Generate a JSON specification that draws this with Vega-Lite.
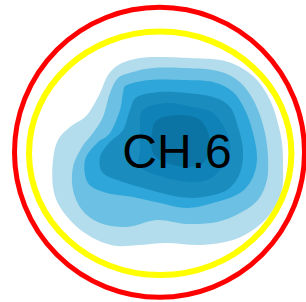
{
  "$schema": "https://vega.github.io/schema/vega-lite/v6.json",
  "width": 306,
  "height": 302,
  "padding": 0,
  "autosize": "none",
  "view": {"stroke": null},
  "datasets": {
    "contours": [
      {"level":1,"i":0,"x":120,"y":64},{"level":1,"i":1,"x":140,"y":58},{"level":1,"i":2,"x":160,"y":57},{"level":1,"i":3,"x":190,"y":58},{"level":1,"i":4,"x":220,"y":60},{"level":1,"i":5,"x":240,"y":67},{"level":1,"i":6,"x":257,"y":80},{"level":1,"i":7,"x":270,"y":100},{"level":1,"i":8,"x":277,"y":120},{"level":1,"i":9,"x":282,"y":143},{"level":1,"i":10,"x":283,"y":167},{"level":1,"i":11,"x":282,"y":190},{"level":1,"i":12,"x":273,"y":210},{"level":1,"i":13,"x":257,"y":227},{"level":1,"i":14,"x":233,"y":240},{"level":1,"i":15,"x":200,"y":245},{"level":1,"i":16,"x":167,"y":243},{"level":1,"i":17,"x":140,"y":245},{"level":1,"i":18,"x":117,"y":246},{"level":1,"i":19,"x":97,"y":240},{"level":1,"i":20,"x":77,"y":227},{"level":1,"i":21,"x":60,"y":207},{"level":1,"i":22,"x":53,"y":187},{"level":1,"i":23,"x":53,"y":160},{"level":1,"i":24,"x":58,"y":140},{"level":1,"i":25,"x":70,"y":127},{"level":1,"i":26,"x":87,"y":115},{"level":1,"i":27,"x":100,"y":93},{"level":1,"i":28,"x":108,"y":75},
      {"level":2,"i":0,"x":118,"y":78},{"level":2,"i":1,"x":133,"y":72},{"level":2,"i":2,"x":153,"y":68},{"level":2,"i":3,"x":183,"y":68},{"level":2,"i":4,"x":213,"y":70},{"level":2,"i":5,"x":233,"y":77},{"level":2,"i":6,"x":247,"y":90},{"level":2,"i":7,"x":258,"y":110},{"level":2,"i":8,"x":265,"y":133},{"level":2,"i":9,"x":268,"y":157},{"level":2,"i":10,"x":267,"y":180},{"level":2,"i":11,"x":258,"y":200},{"level":2,"i":12,"x":240,"y":213},{"level":2,"i":13,"x":217,"y":222},{"level":2,"i":14,"x":187,"y":224},{"level":2,"i":15,"x":157,"y":220},{"level":2,"i":16,"x":127,"y":227},{"level":2,"i":17,"x":100,"y":223},{"level":2,"i":18,"x":82,"y":210},{"level":2,"i":19,"x":73,"y":190},{"level":2,"i":20,"x":73,"y":167},{"level":2,"i":21,"x":82,"y":147},{"level":2,"i":22,"x":93,"y":133},{"level":2,"i":23,"x":103,"y":117},{"level":2,"i":24,"x":110,"y":93},
      {"level":3,"i":0,"x":127,"y":85},{"level":3,"i":1,"x":150,"y":80},{"level":3,"i":2,"x":183,"y":80},{"level":3,"i":3,"x":213,"y":82},{"level":3,"i":4,"x":233,"y":92},{"level":3,"i":5,"x":245,"y":110},{"level":3,"i":6,"x":253,"y":133},{"level":3,"i":7,"x":257,"y":157},{"level":3,"i":8,"x":253,"y":177},{"level":3,"i":9,"x":240,"y":193},{"level":3,"i":10,"x":213,"y":203},{"level":3,"i":11,"x":187,"y":208},{"level":3,"i":12,"x":160,"y":203},{"level":3,"i":13,"x":133,"y":197},{"level":3,"i":14,"x":107,"y":193},{"level":3,"i":15,"x":88,"y":183},{"level":3,"i":16,"x":85,"y":160},{"level":3,"i":17,"x":97,"y":143},{"level":3,"i":18,"x":110,"y":133},{"level":3,"i":19,"x":120,"y":110},{"level":3,"i":20,"x":123,"y":93},
      {"level":4,"i":0,"x":137,"y":97},{"level":4,"i":1,"x":160,"y":92},{"level":4,"i":2,"x":187,"y":93},{"level":4,"i":3,"x":213,"y":97},{"level":4,"i":4,"x":230,"y":107},{"level":4,"i":5,"x":238,"y":127},{"level":4,"i":6,"x":243,"y":150},{"level":4,"i":7,"x":240,"y":173},{"level":4,"i":8,"x":227,"y":190},{"level":4,"i":9,"x":203,"y":197},{"level":4,"i":10,"x":180,"y":197},{"level":4,"i":11,"x":150,"y":190},{"level":4,"i":12,"x":123,"y":182},{"level":4,"i":13,"x":103,"y":173},{"level":4,"i":14,"x":100,"y":157},{"level":4,"i":15,"x":110,"y":142},{"level":4,"i":16,"x":123,"y":130},{"level":4,"i":17,"x":130,"y":110},
      {"level":5,"i":0,"x":143,"y":110},{"level":5,"i":1,"x":167,"y":103},{"level":5,"i":2,"x":193,"y":107},{"level":5,"i":3,"x":213,"y":113},{"level":5,"i":4,"x":227,"y":133},{"level":5,"i":5,"x":230,"y":153},{"level":5,"i":6,"x":220,"y":170},{"level":5,"i":7,"x":207,"y":180},{"level":5,"i":8,"x":187,"y":182},{"level":5,"i":9,"x":163,"y":177},{"level":5,"i":10,"x":140,"y":167},{"level":5,"i":11,"x":140,"y":150},{"level":5,"i":12,"x":140,"y":130},
      {"level":6,"i":0,"x":157,"y":120},{"level":6,"i":1,"x":177,"y":115},{"level":6,"i":2,"x":197,"y":118},{"level":6,"i":3,"x":207,"y":130},{"level":6,"i":4,"x":210,"y":147},{"level":6,"i":5,"x":203,"y":163},{"level":6,"i":6,"x":187,"y":167},{"level":6,"i":7,"x":167,"y":163},{"level":6,"i":8,"x":153,"y":153},{"level":6,"i":9,"x":152,"y":133}
    ],
    "red": [{"x": 159.5, "y": 152.3}],
    "yellow": [{"x": 160.2, "y": 153.3}],
    "label": [{"x": 177, "y": 167.5, "text": "CH.6"}]
  },
  "encoding": {
    "x": {"field": "x", "type": "quantitative", "scale": {"domain": [0, 306], "nice": false, "zero": false}, "axis": null},
    "y": {"field": "y", "type": "quantitative", "scale": {"domain": [0, 302], "nice": false, "zero": false, "reverse": true}, "axis": null}
  },
  "layer": [
    {"data": {"name": "contours"}, "transform": [{"filter": "datum.level == 1"}], "mark": {"type": "line", "fill": "#b3ddec", "stroke": null, "interpolate": "cardinal-closed"}, "encoding": {"order": {"field": "i", "type": "quantitative"}}},
    {"data": {"name": "contours"}, "transform": [{"filter": "datum.level == 2"}], "mark": {"type": "line", "fill": "#6cc0e3", "stroke": null, "interpolate": "cardinal-closed"}, "encoding": {"order": {"field": "i", "type": "quantitative"}}},
    {"data": {"name": "contours"}, "transform": [{"filter": "datum.level == 3"}], "mark": {"type": "line", "fill": "#2ea6d9", "stroke": null, "interpolate": "cardinal-closed"}, "encoding": {"order": {"field": "i", "type": "quantitative"}}},
    {"data": {"name": "contours"}, "transform": [{"filter": "datum.level == 4"}], "mark": {"type": "line", "fill": "#1b8cbe", "stroke": null, "interpolate": "cardinal-closed"}, "encoding": {"order": {"field": "i", "type": "quantitative"}}},
    {"data": {"name": "contours"}, "transform": [{"filter": "datum.level == 5"}], "mark": {"type": "line", "fill": "#0f83b7", "stroke": null, "interpolate": "cardinal-closed"}, "encoding": {"order": {"field": "i", "type": "quantitative"}}},
    {"data": {"name": "contours"}, "transform": [{"filter": "datum.level == 6"}], "mark": {"type": "line", "fill": "#0b74a4", "stroke": null, "interpolate": "cardinal-closed"}, "encoding": {"order": {"field": "i", "type": "quantitative"}}},
    {"data": {"name": "red"}, "mark": {"type": "point", "shape": "circle", "size": 84100, "filled": false, "stroke": "#ff0000", "strokeWidth": 5, "opacity": 1}},
    {"data": {"name": "yellow"}, "mark": {"type": "point", "shape": "M-1,0A1,0.928,0,1,0,1,0A1,0.928,0,1,0,-1,0Z", "size": 68854, "filled": false, "stroke": "#ffff00", "strokeWidth": 6, "opacity": 1}},
    {"data": {"name": "label"}, "mark": {"type": "text", "font": "Liberation Sans", "fontSize": 48, "align": "center", "baseline": "alphabetic", "color": "#000000"}, "encoding": {"text": {"field": "text"}}}
  ]
}
